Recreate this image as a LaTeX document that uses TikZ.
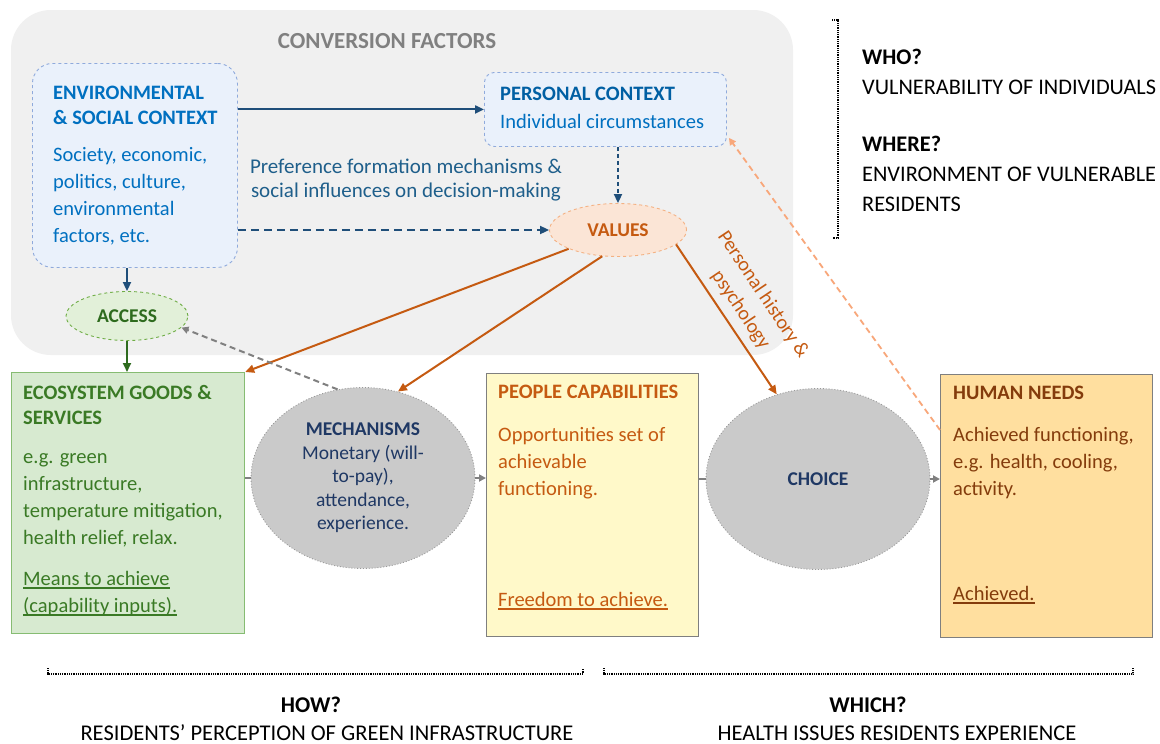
\documentclass[tikz,border=0pt]{standalone}
\usepackage{fontspec}
\setmainfont{Carlito}
\usepackage{tikz}
\usetikzlibrary{shapes.geometric,arrows.meta}
\newcommand{\undl}[1]{\setbox0\hbox{#1}\rlap{\rule[-3.5pt]{\wd0}{1.1pt}}\box0}

\definecolor{bggray}{HTML}{F0F0F0}
\definecolor{ctxfill}{HTML}{EAF1FB}
\definecolor{ctxline}{HTML}{8FAADC}
\definecolor{ctxblue}{HTML}{0070C0}
\definecolor{navyarrow}{HTML}{1F4E79}
\definecolor{preftext}{HTML}{1F5F8B}
\definecolor{valfill}{HTML}{FBE5D6}
\definecolor{valline}{HTML}{F4B183}
\definecolor{rust}{HTML}{C55A11}
\definecolor{accfill}{HTML}{E2F0D9}
\definecolor{accline}{HTML}{70AD47}
\definecolor{leaf}{HTML}{3A7A25}
\definecolor{darkleaf}{HTML}{2E6B1E}
\definecolor{ecofill}{HTML}{D7EAD0}
\definecolor{ecoline}{HTML}{86BC72}
\definecolor{mechfill}{HTML}{CACACA}
\definecolor{navy}{HTML}{1F3864}
\definecolor{capfill}{HTML}{FFF9C9}
\definecolor{needfill}{HTML}{FFDF9F}
\definecolor{needtext}{HTML}{843C0C}
\definecolor{boxline}{HTML}{7F7F7F}
\definecolor{peach}{HTML}{F8A77A}

\begin{document}
\begin{tikzpicture}[x=1pt,y=-1pt,
  hd/.style={font=\fontsize{20.5}{25}\selectfont\bfseries, anchor=base west, align=left, inner sep=0},
  bd/.style={font=\fontsize{20.5}{27}\selectfont, anchor=base west, align=left, inner sep=0},
  side/.style={font=\fontsize{22.3}{30}\selectfont, anchor=base west, align=left, inner sep=0},
  foot/.style={font=\fontsize{22.5}{30}\selectfont, anchor=base, inner sep=0},
  ctx/.style={draw=ctxline, fill=ctxfill, dashed, line width=0.9pt, anchor=north west, inner sep=0},
  card/.style={draw=boxline, line width=1.2pt, anchor=north west, inner sep=0},
  oval/.style={ellipse, inner sep=0, line width=0.9pt, font=\fontsize{19.5}{23.5}\selectfont\bfseries},
  grayoval/.style={oval, fill=mechfill, draw=gray!80, dotted, minimum width=224pt, minimum height=181pt, text=navy, align=center, font=\fontsize{19.5}{23.5}\selectfont},
  tip/.style={-{Triangle[length=9pt,width=8pt]}},
  smalltip/.style={-{Triangle[length=7pt,width=7pt]}},
  link/.style={draw=navyarrow, line width=2pt, tip},
  rustlink/.style={draw=rust, line width=2pt, tip},
  grayline/.style={draw=gray, line width=2pt}
]
\path[fill=white] (0,0) rectangle (1160,744);
\useasboundingbox (0,0) rectangle (1160,744);

\fill[bggray, rounded corners=40pt] (11,10) rectangle (793,355);
\node[font=\fontsize{23}{26}\selectfont\bfseries, text=gray, anchor=base] (conv) at (387,48) {CONVERSION FACTORS};

\node[ctx, rounded corners=20pt, minimum width=205pt, minimum height=204pt] (env) at (32,63) {};
\node[hd, text=ctxblue] (envhd) at (53,124) {ENVIRONMENTAL\\\& SOCIAL CONTEXT};
\node[bd, text=ctxblue] (envbd) at (53,242) {Society, economic,\\politics, culture,\\environmental\\factors, etc.};

\node[ctx, rounded corners=10pt, minimum width=242pt, minimum height=74pt] (pers) at (484,72) {};
\node[hd, text=ctxblue!85!black] (pershd) at (500,100) {PERSONAL CONTEXT};
\node[bd, text=ctxblue] (persbd) at (500,128) {Individual circumstances};

\node[font=\fontsize{21}{24}\selectfont, text=preftext, align=center, anchor=base, inner sep=0] (pref) at (406,197) {Preference formation mechanisms \&\\social influences on decision-making};

\node[oval, fill=valfill, draw=valline, dashed, minimum width=137pt, minimum height=53pt, text=rust] (val) at (618,230) {VALUES};
\node[oval, fill=accfill, draw=accline, dashed, minimum width=122pt, minimum height=49pt, text=darkleaf] (acc) at (127,316) {ACCESS};

\node[card, draw=ecoline, fill=ecofill, minimum width=233pt, minimum height=261pt] (eco) at (11,372) {};
\node[hd, text=leaf] (ecohd) at (23,424) {ECOSYSTEM GOODS \&\\SERVICES};
\node[bd, text=leaf] (ecobd) at (23,544) {e.g. green\\infrastructure,\\temperature mitigation,\\health relief, relax.};
\node[bd, text=leaf] (ecoul) at (23,612) {\undl{Means to achieve}\\\undl{(capability inputs).}};

\node[grayoval] (mech) at (363,478) {\textbf{MECHANISMS}\\Monetary (will-\\to-pay),\\attendance,\\experience.};

\node[card, fill=capfill, minimum width=212pt, minimum height=263pt] (cap) at (486,373) {};
\node[hd, text=rust] (caphd) at (498,398) {PEOPLE CAPABILITIES};
\node[bd, text=rust] (capbd) at (498,495) {Opportunities set of\\achievable\\functioning.};
\node[bd, text=rust] (capul) at (498,606) {\undl{Freedom to achieve.}};

\node[grayoval, font=\fontsize{19.5}{23.5}\selectfont\bfseries] (choice) at (818,479) {CHOICE};

\node[card, fill=needfill, minimum width=212pt, minimum height=263pt] (need) at (940,374) {};
\node[hd, text=needtext] (needhd) at (953,399) {HUMAN NEEDS};
\node[bd, text=needtext] (needbd) at (953,495) {Achieved functioning,\\e.g. health, cooling,\\activity.};
\node[bd, text=needtext] (needul) at (953,600) {\undl{Achieved.}};

\node[side, font=\fontsize{22.3}{30}\selectfont\bfseries] (who) at (862,64) {WHO?};
\node[side] (whotxt) at (862,94) {VULNERABILITY OF INDIVIDUALS};
\node[side, font=\fontsize{22.3}{30}\selectfont\bfseries] (where) at (862,151) {WHERE?};
\node[side] (wheretxt) at (862,211) {ENVIRONMENT OF VULNERABLE\\RESIDENTS};

\node[foot, font=\fontsize{22.5}{30}\selectfont\bfseries] (how) at (311,712) {HOW?};
\node[foot] (howtxt) at (327,740) {RESIDENTS' PERCEPTION OF GREEN INFRASTRUCTURE};
\node[foot, font=\fontsize{22.5}{30}\selectfont\bfseries] (which) at (868,712) {WHICH?};
\node[foot] (whichtxt) at (897,740) {HEALTH ISSUES RESIDENTS EXPERIENCE};

\draw[line width=1.3pt, dash pattern=on 0.9pt off 0.9pt] (832,20) -- (838,20) -- (838,238) -- (832,238);
\draw[line width=1.3pt, dash pattern=on 0.9pt off 0.9pt] (48,668) -- (48,674) -- (583,674) -- (583,668);
\draw[line width=1.3pt, dash pattern=on 0.9pt off 0.9pt] (604,668) -- (604,674) -- (1133,674) -- (1133,668);

\draw[link] (pers.west -| env.east) -- (pers.west);
\draw[link, dash pattern=on 8pt off 5pt] (val.west -| env.east) -- (val.west);
\draw[link, dash pattern=on 4pt off 3pt] (val.north |- pers.south) -- (val.north);
\draw[link] (acc.north |- env.south) -- (acc.north);
\draw[draw=darkleaf, line width=2pt, tip] (acc.south) -- (acc.south |- eco.north);

\draw[rustlink] (val) -- (eco.north east);
\draw[rustlink] (val.239) -- (mech.68);
\draw[rustlink] (val.-14) -- node[sloped, above=4pt, align=center, font=\fontsize{20}{27}\selectfont, text=rust] (hist) {Personal history \&\\psychology} (choice.116);

\draw[grayline, dash pattern=on 6pt off 4pt, smalltip] (mech.106) -- (acc.-12);
\draw[draw=peach, line width=1.8pt, dash pattern=on 6pt off 4pt, smalltip] ([shift={(0,56)}]need.north west) -- ([shift={(2,-9)}]pers.south east);

\draw[grayline] (mech.west -| eco.east) -- (mech.west);
\draw[grayline, smalltip] (mech.east) -- (mech.east -| cap.west);
\draw[grayline] (choice.west -| cap.east) -- (choice.west);
\draw[grayline, smalltip] (choice.east) -- (choice.east -| need.west);
\end{tikzpicture}
\end{document}
